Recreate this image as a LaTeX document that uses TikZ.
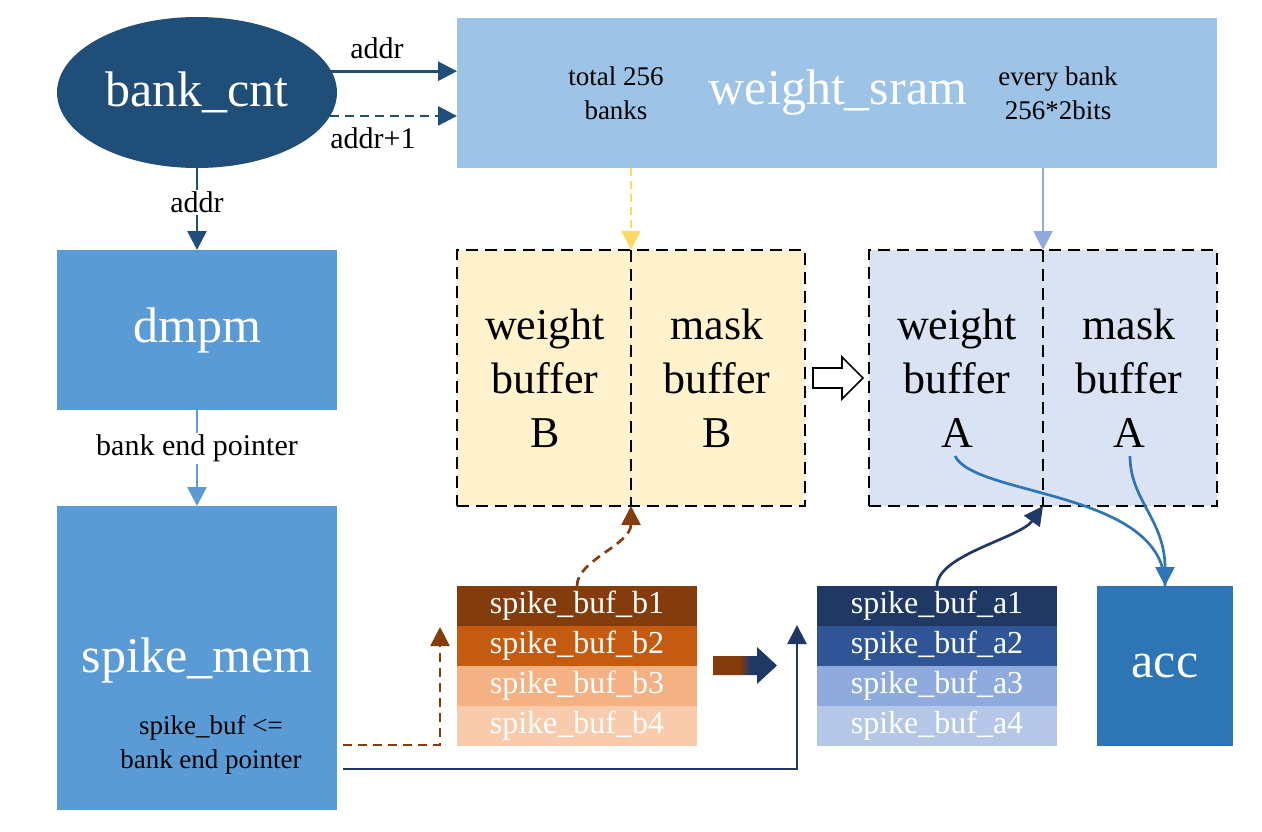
\documentclass[tikz,border=0pt]{standalone}
\usepackage{fontspec}
\setmainfont{Liberation Serif}
\usetikzlibrary{arrows.meta,shapes.geometric,calc}
\definecolor{cntblue}{HTML}{1F4E79}
\definecolor{dmblue}{HTML}{5B9BD5}
\definecolor{sramblue}{HTML}{9DC3E6}
\definecolor{ybfill}{HTML}{FFF2CC}
\definecolor{abfill}{HTML}{DAE3F3}
\definecolor{yarr}{HTML}{FFD966}
\definecolor{larr}{HTML}{8FAADC}
\definecolor{sb1}{HTML}{843C0C}
\definecolor{sb2}{HTML}{C55A11}
\definecolor{sb3}{HTML}{F4B183}
\definecolor{sb4}{HTML}{F8CBAD}
\definecolor{sa1}{HTML}{203864}
\definecolor{sa2}{HTML}{2F5597}
\definecolor{sa3}{HTML}{8FAADC}
\definecolor{sa4}{HTML}{B4C7E7}
\definecolor{accblue}{HTML}{2E75B6}
\pgfdeclarehorizontalshading{gradarrow}{100bp}{color(0bp)=(sb1); color(46bp)=(sb1); color(54bp)=(sa1); color(100bp)=(sa1)}
\newcommand\myfs[2]{\fontsize{#1}{#2}\selectfont}
\begin{document}
\begin{tikzpicture}[x=1pt,y=-1pt,
  blk/.style={rectangle, inner sep=0pt, outer sep=0pt, text=white, align=center},
  bigtxt/.style={font=\myfs{50}{56}},
  lbl/.style={font=\myfs{30}{34}, text=black, inner sep=2pt},
  smalltxt/.style={font=\myfs{27}{34}, align=center, inner sep=0pt},
  buftxt/.style={font=\myfs{44}{54}, align=center, text=black, inner sep=0pt},
  rowtxt/.style={blk, minimum width=240pt, minimum height=40pt, font=\myfs{32}{36}},
  dbox/.style={draw=black, line width=2pt, dash pattern=on 12pt off 7pt, minimum width=348pt, minimum height=256pt, inner sep=0pt, outer sep=0pt},
  divline/.style={draw=black, line width=2pt, dash pattern=on 12pt off 7pt},
  arr/.style={line width=2.7pt, -{Triangle[length=19pt,width=19pt]}},
]
\useasboundingbox (0,0) rectangle (1262,832);

% top row
\node[ellipse, fill=cntblue, minimum width=280pt, minimum height=151pt, inner sep=0pt, outer sep=0pt, text=white, bigtxt] (cnt) at (197,92.5) {bank\_cnt};
\node[blk, fill=sramblue, minimum width=760pt, minimum height=150pt] (sram) at (837,93) {};
\node[text=white, bigtxt, inner sep=0pt] (sramtxt) at (838,93) {weight\_sram};
\node[smalltxt] (total) at (616,93) {total 256\\banks};
\node[smalltxt] (every) at (1058,93) {every bank\\256*2bits};

\draw[arr, cntblue] (cnt.9.6) -- (cnt.9.6 -| sram.west);
\draw[arr, cntblue, dash pattern=on 9pt off 6pt] (cnt.-10) -- (cnt.-10 -| sram.west);
\node[lbl] (la1) at (377,48) {addr};
\node[lbl] (la2) at (373,138) {addr+1};

% left column
\node[blk, fill=dmblue, minimum width=280pt, minimum height=160pt, bigtxt] (dmpm) at (197,330) {dmpm};
\node[blk, fill=dmblue, minimum width=280pt, minimum height=304pt] (smem) at (197,658) {};
\node[text=white, bigtxt, inner sep=0pt] (smemtxt) at (197,660) {spike\_mem};
\node[smalltxt, font=\myfs{27}{34}] (smemsub) at (211,745) {spike\_buf <=\\bank end pointer};

\draw[arr, cntblue] (cnt.south) -- (dmpm.north) node[lbl, fill=white, pos=0.42] (la3) {addr};
\draw[arr, dmblue] (dmpm.south) -- (smem.north) node[lbl, fill=white, pos=0.4] (lbep) {bank end pointer};

% buffer boxes
\node[dbox, fill=ybfill] (yb) at (631,378) {};
\node[dbox, fill=abfill] (ab) at (1043,378) {};
\draw[divline] (yb.north) -- (yb.south);
\draw[divline] (ab.north) -- (ab.south);
\node[buftxt] (wbb) at (545,378) {weight\\buffer\\B};
\node[buftxt] (mbb) at (717,378) {mask\\buffer\\B};
\node[buftxt] (wba) at (957,378) {weight\\buffer\\A};
\node[buftxt] (mba) at (1129,378) {mask\\buffer\\A};

\draw[arr, yarr, line width=2pt, dash pattern=on 8pt off 5pt] (sram.south -| yb.north) -- (yb.north);
\draw[arr, larr, line width=2pt] (sram.south -| ab.north) -- (ab.north);

% hollow arrow
\draw[line width=1.6pt, fill=white, draw=black]
  (813,368) -- (842,368) -- (842,357) -- (863,378) -- (842,399) -- (842,388) -- (813,388) -- cycle;

% spike buffers
\node[rowtxt, fill=sb1] (b1) at (577,606) {spike\_buf\_b1};
\node[rowtxt, fill=sb2] (b2) at (577,646) {spike\_buf\_b2};
\node[rowtxt, fill=sb3] (b3) at (577,686) {spike\_buf\_b3};
\node[rowtxt, fill=sb4] (b4) at (577,726) {spike\_buf\_b4};
\node[rowtxt, fill=sa1] (a1) at (937,606) {spike\_buf\_a1};
\node[rowtxt, fill=sa2] (a2) at (937,646) {spike\_buf\_a2};
\node[rowtxt, fill=sa3] (a3) at (937,686) {spike\_buf\_a3};
\node[rowtxt, fill=sa4] (a4) at (937,726) {spike\_buf\_a4};
\node[blk, fill=accblue, minimum width=136pt, minimum height=160pt, bigtxt] (acc) at (1165,666) {acc};

% gradient arrow
\shade[shading=gradarrow] (713,656) -- (757,656) -- (757,647) -- (777,665.5) -- (757,684) -- (757,675) -- (713,675) -- cycle;

% connectors from spike_mem
\coordinate (bs) at (343,745);
\coordinate (bt) at (440,627);
\coordinate (as) at (343,769);
\coordinate (at) at (797,625);
\draw[arr, sb1, dash pattern=on 9pt off 6pt] (bs) -| (bt);
\draw[arr, sa1] (as) -| (at);

% curves up into buffers
\draw[arr, sb1, dash pattern=on 9pt off 6pt] (b1.north) .. controls (577,560) and (631,545) .. (yb.south);
\draw[arr, sa1] (a1.north) .. controls (937,555) and (1020,538) .. (ab.south);

% curves to acc
\coordinate (wa) at (955,456);
\coordinate (ma) at (1130,456);
\draw[accblue, line width=2.7pt] (wa) .. controls (975,497) and (1165,490) .. (acc.north);
\draw[arr, accblue] (ma) .. controls (1130,500) and (1165,520) .. (acc.north);
\end{tikzpicture}
\end{document}
